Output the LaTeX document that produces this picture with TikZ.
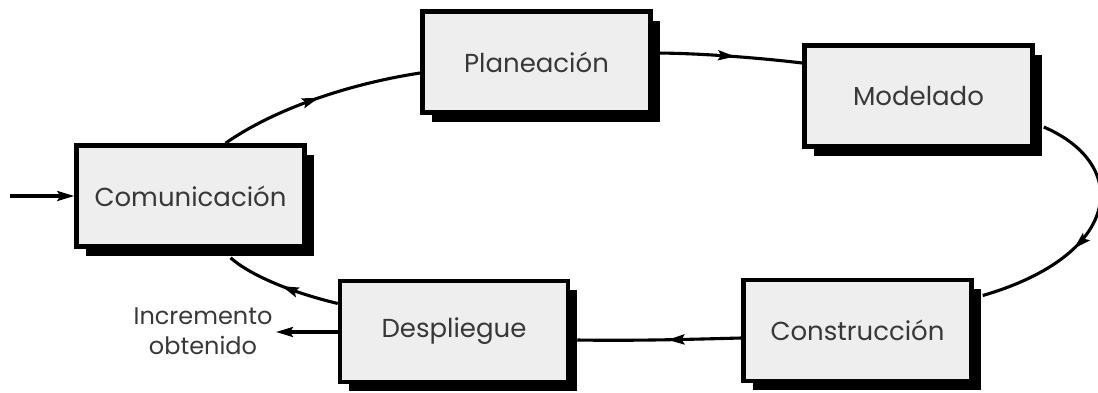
\documentclass[tikz,border=0pt]{standalone}
\usepackage{fontspec}
\setmainfont{Poppins}
\usetikzlibrary{shadows,arrows.meta,decorations.markings}
\definecolor{boxfill}{HTML}{EEEEEE}
\definecolor{txt}{HTML}{383838}
\begin{document}
\begin{tikzpicture}[x=1pt,y=-1pt,
  stagebox/.style={draw=black, line width=4.5pt, fill=boxfill,
    minimum width=228pt, minimum height=101pt, inner sep=0pt,
    font=\fontsize{26}{30}\selectfont, text=txt,
    drop shadow={shadow xshift=9pt, shadow yshift=-9pt, fill=black, opacity=1}},
  conn/.style={line width=3.1pt, draw=black},
  tip/.style={-{Stealth[length=17pt,width=10pt,inset=3pt]}},
  midarrow/.style={postaction={decorate}, decoration={markings,
    mark=at position #1 with {\arrow{Stealth[length=17pt,width=10pt,inset=3pt]}}}}
]
\useasboundingbox (0,0) rectangle (1098,392);

\node[stagebox] (com) at (190.5,196) {Comunicación};
\node[stagebox] (pla) at (536.5,62) {Planeación};
\node[stagebox] (mod) at (918.5,96) {Modelado};
\node[stagebox] (con) at (857.5,330.5) {Construcción};
\node[stagebox] (des) at (454,331.5) {Despliegue};

\coordinate (in) at (10,196);
\coordinate (out) at (276,332);
\node[font=\fontsize{24}{30}\selectfont, text=txt, align=center] (lbl) at (203,331) {Incremento\\obtenido};

\draw[conn, tip] (in) -- (com.west);

\draw[conn, midarrow=0.5] ([xshift=35pt]com.north) .. controls (280,105) and (360,82) .. ([yshift=-11pt]pla.west);
\draw[conn, midarrow=0.55] ([yshift=9pt]pla.east) .. controls (700,53) and (760,58) .. ([yshift=33pt]mod.west);
\draw[conn, midarrow=0.6] ([xshift=9pt,yshift=-31pt]mod.east) .. controls (1132,165) and (1122,255) .. ([xshift=9pt,yshift=35pt]con.east);
\draw[conn, midarrow=0.45] ([yshift=-7.5pt]con.west) .. controls (700,339) and (640,341) .. ([xshift=7pt,yshift=-8.5pt]des.east);
\draw[conn, midarrow=0.5] ([yshift=28pt]des.west) .. controls (290,292) and (250,275) .. ([xshift=40pt,yshift=-9pt]com.south);
\draw[conn, tip] ([yshift=-0.5pt]des.west) -- (out);
\end{tikzpicture}
\end{document}
